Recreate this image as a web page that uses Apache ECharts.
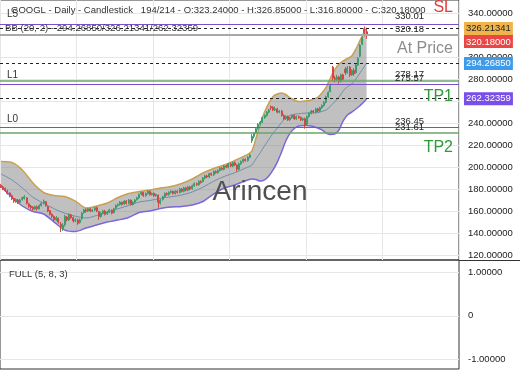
<!DOCTYPE html>
<html><head><meta charset="utf-8">
<script src="https://cdn.jsdelivr.net/npm/echarts@6/dist/echarts.min.js"></script>
<style>html,body{margin:0;padding:0;background:#fff}#c{width:520px;height:390px}</style>
</head><body><div id="c"></div>
<script>
// ---- data ----
const symbolName = 'GOOGL';
const barInfo = '194/214';
const lastOHLC = { o: 323.24, h: 326.85, l: 316.8, c: 320.18 };
const opens = [183.5,182,180.5,178,176.5,174,171.5,168.5,170,168,
170.5,171.5,172,166.5,164.5,163.5,162,164,162,165,
167.5,168.5,164,160.5,157,155,152,153.5,148,144,
147.5,154.5,152,156.5,154,151,152,149.5,153,158.5,
161,160,162,160,161,163,159.5,155,158,160,
157.5,159,161,158.5,162.5,165,166,168,166.5,169,
167,170,166,168,170.5,172,175.5,177,174,176,
178,175,176,174,174.5,167,170.5,173,176,175,
177,178,176,178,177,180,178,181,179,182,
180.5,183,185,184,187,187,190,192,191,194,
193,196,195,197,199,198,201,200,203,201,
204,202,198,203,205,207,206,209,224,228,
231,235,239,241,245,247,250,255,254.5,252,
253,250,251,247,244,246,243,245,247,244,
246,245,243,244,239,246,249,251,250,253,
251,254,256,259,264,269,291,281,280,282,
278,284,289,286,291,284,288,286,293,301,
312,326,323.24];
const closes = [182,180,178.5,176,174,171,169,170.5,168,170,
172,173,167,164,163,162,164,162,165,167,
169,165,160,157,155,152,154,150,146,147,
155,152,157,154,151,152,149,152,158,161,
160,162,160,161,163,160,155,158,160,157,
159,161,158,162,165,166,168,166,169,167,
170,166,168,170,172,175,177,174,176,178,
175,176,174,175,168,170,173,176,175,177,
178,176,178,177,180,178,181,179,182,180,
183,185,184,187,186,190,192,191,194,193,
196,195,197,199,198,201,200,203,201,204,
202,198,203,205,207,206,209,211,228,231,
235,239,241,245,247,250,252,254,252,253,
250,251,247,244,246,243,245,247,244,246,
245,243,244,238,246,249,251,250,253,251,
254,256,259,264,268,274,281,280,282,278,
284,280,286,290,284,288,285,293,299,311,
318,322,320.18];
const lows = [181,179,177.5,175,172.5,170,167.5,167.5,166.5,167,
169.5,170.5,166,163,161.5,160.5,161,160.5,161.5,164,
166,164,159,156,153.5,150.5,151,148.5,141,142,
146,150.5,151,153,149.5,150,147.5,148.5,152,157.5,
158.5,159,159,159,160,159,152,154,157,156,
156.5,158,157,158,161.5,164,165,165,165.5,166,
166,165,165,167,169.5,171,174.5,173,173,175,
174,174,173,173,163,166,169.5,172,174,174,
176,175,175,176,176,177,177,178,178,179,
179.5,182,183,183,185,186,189,190,190,192,
192,194,194,196,197,197,199,199,200,200,
201,196,197,202,204,205,205,208,222,226,
230,234,238,240,244,246,249,252,251,251,
249,249,246,243,243,242,242,244,243,243,
244,242,242,235,238,245,248,249,249,250,
250,253,255,258,263,268,278,277,278,276,
277,279,284,285,282,283,283,285,292,300,
311,319,316.8];
const highs = [184.5,183,181.5,179.5,177,175,172,171.5,171,171,
173,174.5,172.5,167.5,165.5,164.5,165,165,166,168,
170.5,169,165,161,158,156,155.5,154,150,149,
156.5,155.5,158,157.5,155,153.5,153,153,159,162,
162.5,163,163,162,164,164,160,159,161,161,
160,162,161.5,163,166,167,169,168.5,170,170,
171,170.5,169,171,173,176,178,177.5,177,179,
178.5,177,177,176,175,171,174,177,177,178,
179,178.5,179,179,181,181,182,182,183,183,
184,186,186,188,188,191,193,193,195,195,
197,197,198,200,200,202,202,204,204,205,
205,202.5,204,206,208,208,210,212,230,232,
236,240,242,246,248,251,253,256,255.5,255,
254,252,252,248,247,247,246,248,248,247,
247,246,245,245,247,250,252,252,254,254,
255,257,260,265,269,276,292,283,284,283,
285,285,291,292,292,289,290,294,300,312,
319,328,326.85];

// Bollinger band (20,2) read at sample bars
const bandIdx = [0,5,10,15,20,25,30,35,40,45,50,55,60,65,70,75,80,85,90,95,100,105,110,113,116,118,120,122,124,126,128,130,132,134,136,138,140,143,146,149,151,153,155,157,159,161,163,165,167,169,171,172];
const bbUpper = [205.1,204.2,197.4,185.5,176.9,174.1,173.2,169.1,162.8,164.6,167.3,172.3,175.9,177.8,179.1,181.0,182.3,185.1,189.2,194.6,198.7,201.9,206.0,208.7,211.5,214.6,226.5,239.2,250.2,258.3,264.3,266.5,267.5,266.1,262.9,261.1,259.7,260.2,261.1,263.4,267.5,272.9,281.1,288.4,293.8,296.6,298.9,301.1,307.5,315.7,323.4,326.2];
const bbMiddle = [193.7,188.5,181.0,172.6,167.1,162.1,158.0,155.3,153.7,156.0,158.7,162.1,165.0,168.3,169.6,171.6,173.0,174.6,177.4,181.7,187.1,191.5,194.9,197.4,199.9,201.9,207.6,213.3,219.3,225.1,230.9,235.6,240.6,245.0,247.0,248.1,248.6,249.1,249.3,249.5,250.7,252.0,255.4,259.3,263.8,269.3,273.2,275.6,280.2,285.9,291.6,294.27];
const bbLower = [182.3,172.8,164.6,159.6,157.3,150.0,142.7,141.4,144.6,147.3,150.0,151.8,154.1,158.7,160.0,162.3,163.7,164.1,165.5,168.7,175.5,181.0,183.7,186.0,188.3,189.2,188.7,187.3,188.3,191.9,197.4,204.6,213.7,223.8,231.0,235.1,237.4,237.9,237.4,235.6,233.8,231.0,229.7,230.1,233.8,242.0,247.4,250.1,252.9,256.1,259.7,262.3];
const bbNow = { middle: 294.2685, upper: 326.21341, lower: 262.32359 };

// horizontal levels
const levelL5 = 330.01, levelPrice = 320.18, levelL1 = 278.17, levelTP1 = 275.57, levelL0 = 236.45, levelTP2 = 231.61;

// axis ticks
const priceMin = 120, priceMax = 340, priceStep = 20;
const oscMin = -1, oscMax = 1, oscStep = 1;
const totalSlots = 216;

// ---- chart ----
const FONT = '"Liberation Sans", Arial, sans-serif';
const FS = 9.5;
const categories = Array.from({ length: totalSlots }, (_, i) => 'B' + (i + 1));
const candleData = opens.map((o, i) => [o, closes[i], lows[i], highs[i]]);
const pairs = arr => bandIdx.map((x, i) => [x, arr[i]]);
const GREEN = '#3b9d6e', RED = '#d64541';
const LVL_GREEN = '#6aa66a', LVL_PURPLE = '#7a4fc8';

function txt(value, text, pos, dist, extra) {
  return { yAxis: value, lineStyle: { color: 'rgba(0,0,0,0)', width: 1, type: 'solid' },
    label: Object.assign({ show: true, position: pos, formatter: text, distance: dist,
      fontFamily: FONT, fontSize: FS, color: '#222' }, extra || {}) };
}
function ln(value, color, type, width, label) {
  return { yAxis: value, lineStyle: { color: color, type: type, width: width },
    label: label ? Object.assign({ show: true, fontFamily: FONT, fontSize: FS }, label) : { show: false } };
}
function badge(text, bg, fg, extra) {
  return Object.assign({ position: 'end', formatter: text, distance: 5, backgroundColor: bg, color: fg,
    padding: [2, 2, 1, 2] }, extra || {});
}

const markData = [
  ln(levelL5, LVL_PURPLE, 'solid', 1.2),
  txt(levelL5, 'L5', 'insideStartTop', [7, 5], { color: '#333', fontSize: 10 }),
  txt(levelL5, levelL5.toFixed(2), 'insideEndTop', [35, 3]),
  txt(levelL5, 'SL', 'insideEndTop', [6, 9], { fontSize: 16, color: '#e23b3b' }),
  ln(bbNow.upper, '#222', [3, 3], 1, badge(bbNow.upper.toFixed(5), '#f0b44c', '#222')),
  ln(levelPrice, '#a8a8a8', 'solid', 2, badge(levelPrice.toFixed(5), '#eb4646', '#fff', { verticalAlign: 'top' })),
  txt(levelPrice, levelPrice.toFixed(2), 'insideEndTop', [35, 1]),
  txt(levelPrice, 'At Price', 'insideEndBottom', [6, 6], { fontSize: 16, color: '#8c8c8c' }),
  ln(bbNow.middle, '#222', [3, 3], 1, badge(bbNow.middle.toFixed(5), '#3d9be9', '#fff')),
  ln(levelL1, LVL_GREEN, 'solid', 1.5),
  txt(levelL1, 'L1', 'insideStartTop', [7, 1], { color: '#333', fontSize: 10 }),
  txt(levelL1, levelL1.toFixed(2), 'insideEndTop', [35, 2]),
  ln(levelTP1, LVL_PURPLE, 'solid', 1.2),
  txt(levelTP1, levelTP1.toFixed(2), 'insideEndTop', [35, 1]),
  txt(levelTP1, 'TP1', 'insideEndBottom', [6, 5], { fontSize: 16, color: '#2f9a3a' }),
  ln(bbNow.lower, '#222', [3, 3], 1, badge(bbNow.lower.toFixed(5), '#7a4ee8', '#fff')),
  ln(levelL0, LVL_PURPLE, 'solid', 1.2),
  txt(levelL0, 'L0', 'insideStartTop', [7, 3], { color: '#333', fontSize: 10 }),
  txt(levelL0, levelL0.toFixed(2), 'insideEndTop', [35, 1]),
  ln(levelTP2, LVL_GREEN, 'solid', 1.5),
  txt(levelTP2, levelTP2.toFixed(2), 'insideEndTop', [35, 0]),
  txt(levelTP2, 'TP2', 'insideEndBottom', [6, 7], { fontSize: 16, color: '#2f9a3a' })
];

const titleText = symbolName + ' - Daily - Candlestick   ' + barInfo +
  ' - O:' + lastOHLC.o.toFixed(5) + ' - H:' + lastOHLC.h.toFixed(5) +
  ' - L:' + lastOHLC.l.toFixed(5) + ' - C:' + lastOHLC.c.toFixed(5);
const bbText = 'BB (20, 2) - ' + bbNow.middle.toFixed(5) + '/' + bbNow.upper.toFixed(5) + '/' + bbNow.lower.toFixed(5);

const hidden = { show: false };
const tStyle = (size, color) => ({ fontFamily: FONT, fontSize: size, fontWeight: 'normal', color: color });
const option = {
  animation: false,
  backgroundColor: '#fff',
  textStyle: { fontFamily: FONT },
  title: [
    { text: titleText, left: 11, top: 5, padding: 0, textStyle: tStyle(9.5, '#333') },
    { text: bbText, left: 5, top: 23.5, padding: 0, textStyle: tStyle(9.6, '#333') },
    { text: 'FULL (5, 8, 3)', left: 9, top: 269, padding: 0, textStyle: tStyle(9.5, '#333') },
    { text: 'Arincen', left: 'center', top: 178, padding: 0, textStyle: tStyle(28, '#505050') }
  ],
  grid: [
    { left: 0, right: 61, top: 13.3, height: 241.7 },
    { left: -1, right: 61, top: -1, height: 261, show: true, borderColor: '#333', borderWidth: 1, backgroundColor: 'transparent' },
    { left: 0, right: 61, top: 272.7, height: 86.3 },
    { left: -1, right: 61, top: 260, height: 109, show: true, borderColor: '#333', borderWidth: 1, backgroundColor: 'transparent' }
  ],
  xAxis: [
    { type: 'category', gridIndex: 0, data: categories, boundaryGap: true, show: false },
    { type: 'value', gridIndex: 0, min: -0.5, max: totalSlots - 0.5, show: false },
    { type: 'value', gridIndex: 1, min: 0, max: 6, interval: 1, axisLine: hidden, axisTick: hidden, axisLabel: hidden,
      splitLine: { show: true, lineStyle: { color: '#e6e6e6', width: 1 } } },
    { type: 'value', gridIndex: 2, min: 0, max: 1, show: false },
    { type: 'value', gridIndex: 3, min: 0, max: 1, show: false }
  ],
  yAxis: [
    { type: 'value', gridIndex: 0, position: 'right', min: priceMin, max: priceMax, interval: priceStep,
      axisLine: hidden, axisTick: hidden,
      axisLabel: { margin: 9, fontFamily: FONT, fontSize: FS, color: '#222', formatter: v => v.toFixed(5) },
      splitLine: { show: true, lineStyle: { color: '#e6e6e6', width: 1 } } },
    { type: 'value', gridIndex: 1, min: 0, max: 1, show: false },
    { type: 'value', gridIndex: 2, position: 'right', min: oscMin, max: oscMax, interval: oscStep,
      axisLine: hidden, axisTick: hidden,
      axisLabel: { margin: 9, fontFamily: FONT, fontSize: FS, color: '#222', formatter: v => v === 0 ? '0' : v.toFixed(5) },
      splitLine: { show: true, lineStyle: { color: '#e6e6e6', width: 1 } } },
    { type: 'value', gridIndex: 3, min: 0, max: 1, show: false }
  ],
  graphic: [
    { type: 'line', shape: { x1: 459, y1: 260.5, x2: 520, y2: 260.5 }, style: { stroke: '#333', lineWidth: 1 }, silent: true }
  ],
  series: [
    { type: 'custom', xAxisIndex: 1, yAxisIndex: 0, data: [[0, priceMin]], z: 1, silent: true, clip: true,
      renderItem: function (params, api) {
        const pts = [];
        for (let i = 0; i < bandIdx.length; i++) pts.push(api.coord([bandIdx[i], bbUpper[i]]));
        for (let i = bandIdx.length - 1; i >= 0; i--) pts.push(api.coord([bandIdx[i], bbLower[i]]));
        return { type: 'polygon', shape: { points: pts }, style: { fill: 'rgba(130,130,130,0.5)', stroke: null } };
      } },
    { type: 'line', xAxisIndex: 1, yAxisIndex: 0, data: pairs(bbMiddle), smooth: 0.3, showSymbol: false, silent: true, z: 2,
      lineStyle: { color: '#6f8fae', width: 1 } },
    { type: 'line', xAxisIndex: 1, yAxisIndex: 0, data: pairs(bbUpper), smooth: 0.3, showSymbol: false, silent: true, z: 2,
      lineStyle: { color: '#c9a050', width: 1.5 } },
    { type: 'line', xAxisIndex: 1, yAxisIndex: 0, data: pairs(bbLower), smooth: 0.3, showSymbol: false, silent: true, z: 2,
      lineStyle: { color: '#7b68d9', width: 1.5 } },
    { type: 'candlestick', xAxisIndex: 0, yAxisIndex: 0, data: candleData, barWidth: '72%', z: 3, silent: true,
      itemStyle: { color: GREEN, color0: RED, borderColor: GREEN, borderColor0: RED, borderWidth: 1 },
      markLine: { symbol: ['none', 'none'], silent: true, animation: false, data: markData } }
  ]
};
const chart = echarts.init(document.getElementById('c'));
chart.setOption(option);
</script>
</body></html>
